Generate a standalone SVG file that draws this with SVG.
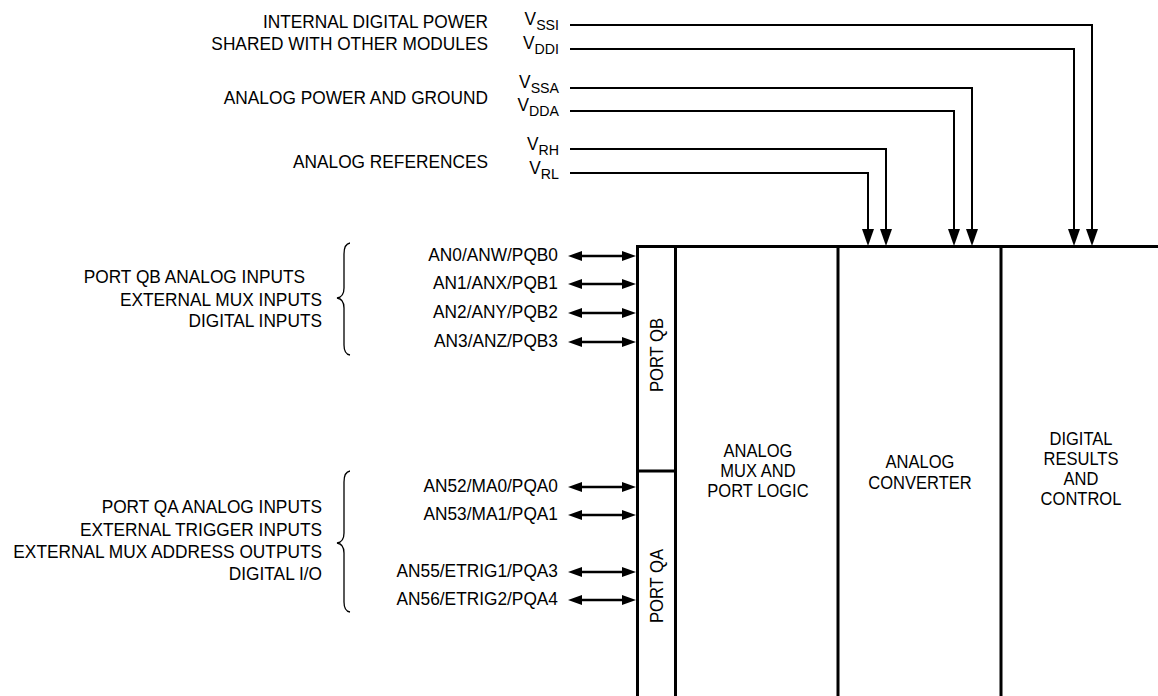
<svg xmlns="http://www.w3.org/2000/svg" width="1158" height="696" viewBox="0 0 1158 696">
<style>
.t{font-family:"Liberation Sans",Arial,sans-serif;font-size:18.9px;fill:#000}
.e{text-anchor:end}
.m{text-anchor:middle}
.b{font-size:19px}
.sub{font-size:15.5px}
.box{stroke:#000;stroke-width:3;fill:none}
.wire{stroke:#000;stroke-width:2;fill:none}
.dw{stroke:#000;stroke-width:2.4;fill:none}
.brace{stroke:#000;stroke-width:1.3;fill:none}
</style>
<defs>
<marker id="down" markerUnits="userSpaceOnUse" markerWidth="17" markerHeight="12" refX="2" refY="6" orient="auto">
<path d="M0,0 L17,6 L0,12 z" fill="#000"/>
</marker>
<marker id="dbl" markerUnits="userSpaceOnUse" markerWidth="14" markerHeight="10" refX="2" refY="5" orient="auto-start-reverse">
<path d="M0,0 L14,5 L0,10 z" fill="#000"/>
</marker>
</defs>
<rect width="1158" height="696" fill="#fff"/>

<g id="supply-labels">
<g transform="matrix(0.915 0 0 1 41.48 0)">
<text class="t e" x="488" y="28">INTERNAL DIGITAL POWER</text>
<text class="t e" x="488" y="50">SHARED WITH OTHER MODULES</text>
<text class="t e" x="488" y="104">ANALOG POWER AND GROUND</text>
<text class="t e" x="488" y="168">ANALOG REFERENCES</text>
</g>
<g transform="matrix(0.915 0 0 1 47.515 0)">
<text class="t e" x="559" y="25">V<tspan class="sub" dy="5">SSI</tspan></text>
<text class="t e" x="559" y="49">V<tspan class="sub" dy="5">DDI</tspan></text>
<text class="t e" x="559" y="88">V<tspan class="sub" dy="5">SSA</tspan></text>
<text class="t e" x="559" y="111">V<tspan class="sub" dy="5">DDA</tspan></text>
<text class="t e" x="559" y="150">V<tspan class="sub" dy="5">RH</tspan></text>
<text class="t e" x="559" y="174">V<tspan class="sub" dy="5">RL</tspan></text>
</g>
</g>

<g id="port-qb-group">
<text class="t e" x="305" y="283" transform="matrix(0.915 0 0 1 25.925 0)">PORT QB ANALOG INPUTS</text>
<g transform="matrix(0.915 0 0 1 27.37 0)">
<text class="t e" x="322" y="306">EXTERNAL MUX INPUTS</text>
<text class="t e" x="322" y="327">DIGITAL INPUTS</text>
</g>
<path class="brace" d="M350,243 Q344,244 344,254 L344,288 Q344,297 337,298 Q344,299 344,308 L344,345 Q344,354 350,355"/>
<g transform="matrix(0.915 0 0 1 47.43 0)">
<text class="t e" x="558" y="261">AN0/ANW/PQB0</text>
<text class="t e" x="558" y="289">AN1/ANX/PQB1</text>
<text class="t e" x="558" y="318">AN2/ANY/PQB2</text>
<text class="t e" x="558" y="347">AN3/ANZ/PQB3</text>
</g>
</g>

<g id="port-qa-group">
<g transform="matrix(0.915 0 0 1 27.37 0)">
<text class="t e" x="322" y="513">PORT QA ANALOG INPUTS</text>
<text class="t e" x="322" y="536">EXTERNAL TRIGGER INPUTS</text>
<text class="t e" x="322" y="558">EXTERNAL MUX ADDRESS OUTPUTS</text>
<text class="t e" x="322" y="580">DIGITAL I/O</text>
</g>
<path class="brace" d="M350,471 Q344,472 344,482 L344,533 Q344,542 337,543 Q344,544 344,553 L344,602 Q344,611 350,612"/>
<g transform="matrix(0.915 0 0 1 47.43 0)">
<text class="t e" x="558" y="492">AN52/MA0/PQA0</text>
<text class="t e" x="558" y="520">AN53/MA1/PQA1</text>
<text class="t e" x="558" y="577">AN55/ETRIG1/PQA3</text>
<text class="t e" x="558" y="605">AN56/ETRIG2/PQA4</text>
</g>
</g>

<g id="module-frame">
<path class="box" d="M637.5,696 V246.5 H1158"/>
</g>
<g id="port-qb">
<path class="box" d="M675.5,246.5 V696"/>
<text class="t m" transform="translate(663,355) rotate(-90) scale(0.88,1)">PORT QB</text>
</g>
<g id="port-qa">
<path class="box" d="M637.5,471 H675.5"/>
<text class="t m" transform="translate(663,586) rotate(-90) scale(0.88,1)">PORT QA</text>
</g>
<g id="analog-mux">
<g transform="matrix(0.87 0 0 1 98.54 0)">
<text class="t b m" x="758" y="457">ANALOG</text>
<text class="t b m" x="758" y="477">MUX AND</text>
<text class="t b m" x="758" y="497">PORT LOGIC</text>
</g>
</g>
<g id="analog-converter">
<path class="box" d="M838,246.5 V696"/>
<g transform="matrix(0.87 0 0 1 119.6 0)">
<text class="t b m" x="920" y="468">ANALOG</text>
<text class="t b m" x="920" y="489">CONVERTER</text>
</g>
</g>
<g id="digital-results">
<path class="box" d="M1001,246.5 V696"/>
<g transform="matrix(0.87 0 0 1 140.53 0)">
<text class="t b m" x="1081" y="445">DIGITAL</text>
<text class="t b m" x="1081" y="465">RESULTS</text>
<text class="t b m" x="1081" y="485">AND</text>
<text class="t b m" x="1081" y="505">CONTROL</text>
</g>
</g>

<g id="connectors">
<path class="wire" d="M570,25 H1092 V231" marker-end="url(#down)"/>
<path class="wire" d="M570,49 H1074 V231" marker-end="url(#down)"/>
<path class="wire" d="M570,88 H972 V231" marker-end="url(#down)"/>
<path class="wire" d="M570,111 H954 V231" marker-end="url(#down)"/>
<path class="wire" d="M570,149 H886 V231" marker-end="url(#down)"/>
<path class="wire" d="M570,173 H868 V231" marker-end="url(#down)"/>
<path class="dw" d="M580,256 H624" marker-start="url(#dbl)" marker-end="url(#dbl)"/>
<path class="dw" d="M580,284 H624" marker-start="url(#dbl)" marker-end="url(#dbl)"/>
<path class="dw" d="M580,313 H624" marker-start="url(#dbl)" marker-end="url(#dbl)"/>
<path class="dw" d="M580,342 H624" marker-start="url(#dbl)" marker-end="url(#dbl)"/>
<path class="dw" d="M580,487 H624" marker-start="url(#dbl)" marker-end="url(#dbl)"/>
<path class="dw" d="M580,515 H624" marker-start="url(#dbl)" marker-end="url(#dbl)"/>
<path class="dw" d="M580,572 H624" marker-start="url(#dbl)" marker-end="url(#dbl)"/>
<path class="dw" d="M580,600 H624" marker-start="url(#dbl)" marker-end="url(#dbl)"/>
</g>
</svg>
